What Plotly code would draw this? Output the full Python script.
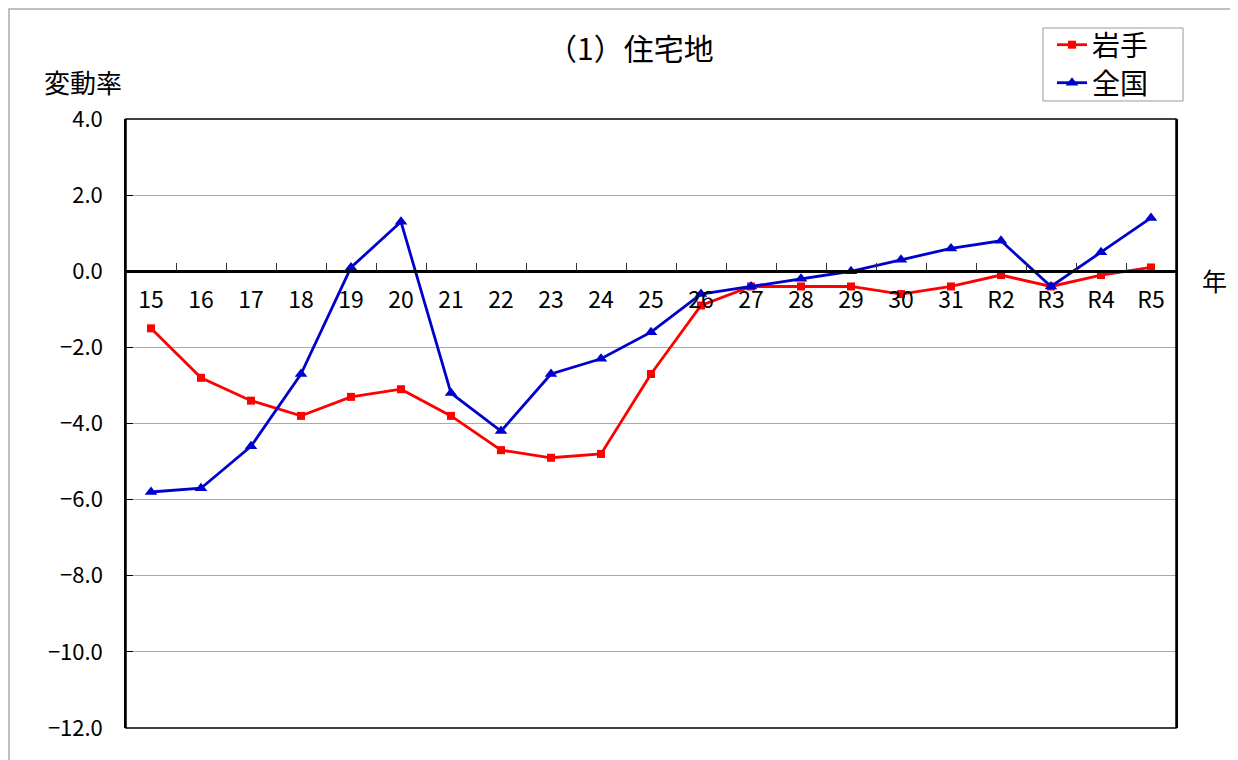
import plotly.graph_objects as go

categories = ["15", "16", "17", "18", "19", "20", "21", "22", "23", "24", "25",
              "26", "27", "28", "29", "30", "31", "R2", "R3", "R4", "R5"]
iwate = [-1.5, -2.8, -3.4, -3.8, -3.3, -3.1, -3.8, -4.7, -4.9, -4.8, -2.7,
         -0.9, -0.4, -0.4, -0.4, -0.6, -0.4, -0.1, -0.4, -0.1, 0.1]
zenkoku = [-5.8, -5.7, -4.6, -2.7, 0.1, 1.3, -3.2, -4.2, -2.7, -2.3, -1.6,
           -0.6, -0.4, -0.2, 0.0, 0.3, 0.6, 0.8, -0.4, 0.5, 1.4]
ytickvals = [4, 2, 0, -2, -4, -6, -8, -10, -12]
yticktext = ["4.0", "2.0", "0.0", "\u22122.0", "\u22124.0", "\u22126.0", "\u22128.0", "\u221210.0", "\u221212.0"]

FONT = "Noto Sans CJK JP"

fig = go.Figure()
fig.add_trace(go.Scatter(
    x=categories, y=iwate, name="岩手", mode="lines+markers",
    line=dict(color="#ff0000", width=2.8),
    marker=dict(symbol="square", size=8, color="#ff0000"),
    legend="legend",
))
fig.add_trace(go.Scatter(
    x=categories, y=zenkoku, name="全国", mode="lines+markers",
    line=dict(color="#0000cc", width=2.8),
    marker=dict(symbol="triangle-up", size=11, color="#0000cc"),
    legend="legend2",
))

leg_common = dict(
    xanchor="left", yanchor="middle", borderwidth=0,
    bgcolor="rgba(0,0,0,0)", font=dict(size=28, family=FONT), itemwidth=30,
)

fig.update_layout(
    width=1238, height=760,
    margin=dict(l=118, r=70, t=111, b=40),
    paper_bgcolor="white", plot_bgcolor="white",
    font=dict(family=FONT, size=22, color="black"),
    showlegend=True,
    legend=dict(x=0.8819, y=1.1215, **leg_common),
    legend2=dict(x=0.8819, y=1.0591, **leg_common),
    xaxis=dict(
        type="category", categoryarray=categories, range=[-0.5, 20.5],
        anchor="free", position=0.75,
        showline=True, linecolor="black", linewidth=2.5,
        ticks="inside", tickson="boundaries", ticklen=8, tickcolor="#333333",
        showgrid=False, zeroline=False,
        tickfont=dict(size=23, family=FONT),
        ticklabelstandoff=7,
    ),
    yaxis=dict(
        range=[-12, 4], tickvals=ytickvals, ticktext=yticktext,
        showgrid=True, gridcolor="#aaaaaa", gridwidth=1,
        zeroline=False,
        showline=True, linecolor="black", linewidth=1.5, mirror=True,
        ticks="inside", ticklen=7, tickcolor="black",
        tickfont=dict(size=22, family=FONT),
        ticklabelstandoff=17,
    ),
    shapes=[
        dict(type="rect", xref="paper", yref="paper", x0=0, x1=1, y0=0, y1=1,
             line=dict(color="black", width=1.5), fillcolor="rgba(0,0,0,0)", layer="above"),
        dict(type="rect", xref="paper", yref="paper", x0=-0.1114, x1=1.3, y0=-0.2, y1=1.1806,
             line=dict(color="#aaaaaa", width=1.5), fillcolor="rgba(0,0,0,0)", layer="below"),
        dict(type="rect", xref="paper", yref="paper", x0=0.8733, x1=1.0067, y0=1.0296, y1=1.1494,
             line=dict(color="#999999", width=1), fillcolor="rgba(0,0,0,0)", layer="below"),
    ],
    annotations=[
        dict(text="（1）住宅地", xref="paper", yref="paper", x=0.48, y=1.118,
             xanchor="center", yanchor="middle", showarrow=False,
             font=dict(size=30, family=FONT)),
        dict(text="変動率", xref="paper", yref="paper", x=-0.08, y=1.061,
             xanchor="left", yanchor="middle", showarrow=False,
             font=dict(size=26, family=FONT)),
        dict(text="年", xref="paper", yref="paper", x=1.0229, y=0.7356,
             xanchor="left", yanchor="middle", showarrow=False,
             font=dict(size=25, family=FONT)),
    ],
)

fig.write_html("out.html")
